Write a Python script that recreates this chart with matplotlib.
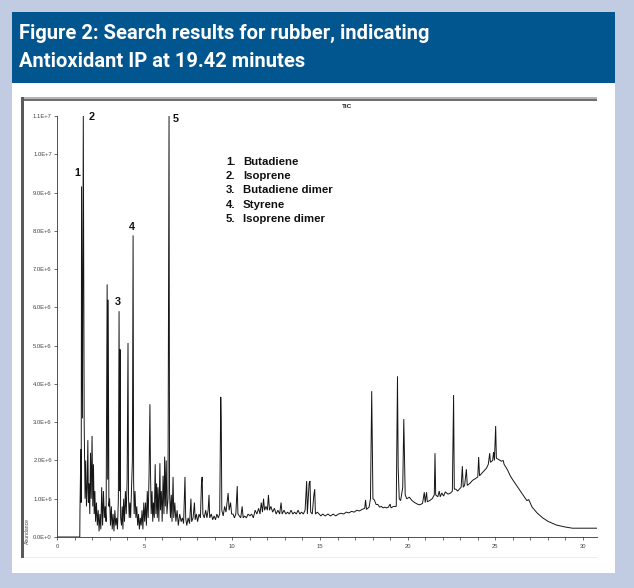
import numpy as np
import matplotlib.pyplot as plt
from matplotlib.patches import Rectangle
from matplotlib.ticker import FuncFormatter, MultipleLocator

W, H = 634, 588
BG = '#c1cce3'
BAR = '#02568f'

TITLE_LINES = ['Figure 2: Search results for rubber, indicating',
               'Antioxidant IP at 19.42 minutes']

# TIC trace, retention time (min) and abundance (x 1e6), in three stretches
rt_early = [0.00, 1.30, 1.31, 1.36, 1.38, 1.40, 1.45, 1.50, 1.55, 1.60, 1.64, 1.68,
            1.72, 1.76, 1.79, 1.83, 1.87, 1.91, 1.95, 2.00, 2.04, 2.08, 2.12, 2.16,
            2.20, 2.25, 2.30, 2.35, 2.40, 2.45, 2.50, 2.55, 2.60, 2.65, 2.70, 2.75,
            2.80, 2.86, 2.89, 2.92, 2.96, 3.00, 3.05, 3.10, 3.15, 3.20, 3.25, 3.30,
            3.35, 3.40, 3.45, 3.50, 3.54, 3.57, 3.60, 3.63, 3.68, 3.72, 3.76, 3.80,
            3.85, 3.90, 3.95, 4.00, 4.05, 4.08, 4.12, 4.16, 4.20, 4.25, 4.30, 4.34,
            4.37, 4.40, 4.45, 4.50, 4.55, 4.60, 4.65, 4.70, 4.75, 4.80, 4.85, 4.90,
            4.95, 5.00]
ab_early = [0.00, 0.00, 0.70, 2.30, 0.90, 9.16, 3.10, 11.0, 3.00, 1.00, 2.00, 0.80,
            1.30, 2.53, 0.90, 1.40, 0.60, 2.20, 1.00, 2.64, 0.80, 1.90, 0.60, 1.20,
            0.40, 0.90, 0.30, 0.70, 0.15, 0.60, 0.20, 1.30, 0.30, 1.20, 0.50, 0.80,
            0.40, 6.60, 1.50, 6.20, 0.80, 1.00, 0.30, 0.80, 0.20, 0.60, 0.15, 0.70,
            0.30, 0.50, 0.20, 1.00, 5.90, 1.20, 4.90, 0.50, 0.30, 0.80, 0.20, 1.00,
            0.40, 1.20, 0.60, 1.50, 5.07, 1.00, 0.50, 0.90, 0.50, 1.30, 2.00, 7.88,
            1.50, 0.60, 1.20, 0.50, 0.80, 0.30, 0.60, 0.20, 0.50, 0.30, 0.70, 0.20,
            0.90, 0.40]

rt_mid = [5.05, 5.10, 5.15, 5.20, 5.25, 5.30, 5.33, 5.37, 5.42, 5.46, 5.50, 5.55,
          5.60, 5.64, 5.68, 5.72, 5.76, 5.81, 5.87, 5.90, 5.95, 6.00, 6.05, 6.10,
          6.14, 6.18, 6.23, 6.27, 6.33, 6.39, 6.42, 6.47, 6.52, 6.56, 6.62, 6.66,
          6.72, 6.78, 6.85, 6.92, 7.00, 7.08, 7.15, 7.22, 7.30, 7.34, 7.40, 7.48,
          7.56, 7.64, 7.68, 7.76, 7.84, 7.88, 7.95, 8.02, 8.10, 8.18, 8.24, 8.28,
          8.32, 8.40, 8.48, 8.55, 8.62, 8.67, 8.71, 8.80, 8.88, 8.96, 9.04, 9.12,
          9.20, 9.28, 9.34, 9.37, 9.40, 9.48, 9.56, 9.64, 9.72, 9.76, 9.82, 9.90,
          9.96, 10.04, 10.12, 10.20, 10.28, 10.32, 10.40, 10.48, 10.56, 10.62, 10.70,
          10.80, 10.90, 11.00, 11.10, 11.20, 11.30, 11.40, 11.50, 11.58, 11.65, 11.72,
          11.78, 11.84, 11.92, 12.00, 12.06, 12.12, 12.20, 12.30, 12.40, 12.50, 12.60,
          12.70, 12.78, 12.84, 12.95, 13.05, 13.15, 13.25, 13.35, 13.45, 13.55, 13.65,
          13.75, 13.85, 13.95, 14.05, 14.15, 14.24, 14.28, 14.38, 14.43, 14.47, 14.56,
          14.65, 14.70, 14.74, 14.85, 14.95]
ab_mid = [0.90, 0.30, 1.20, 0.50, 1.60, 3.47, 1.80, 0.60, 1.20, 0.40, 0.90, 0.50,
          1.90, 0.60, 1.40, 0.50, 1.30, 0.40, 1.93, 0.70, 1.20, 0.40, 1.60, 0.60,
          2.10, 0.80, 2.00, 0.60, 1.00, 11.0, 1.20, 0.50, 1.10, 0.40, 1.57, 0.50,
          0.90, 0.40, 0.70, 0.30, 0.60, 0.40, 0.50, 0.35, 1.57, 0.50, 0.30, 0.50,
          0.35, 1.00, 0.40, 0.50, 0.90, 0.45, 0.60, 0.40, 0.60, 0.50, 1.40, 1.57,
          0.60, 0.50, 0.70, 0.50, 0.70, 1.10, 0.50, 0.60, 0.45, 0.55, 0.45, 0.60,
          0.50, 0.60, 3.66, 3.00, 0.70, 0.55, 0.80, 0.65, 1.00, 1.15, 0.70, 0.90,
          0.60, 0.60, 0.50, 0.60, 1.33, 0.60, 0.55, 0.50, 0.80, 0.50, 0.55,
          0.50, 0.60, 0.55, 0.60, 0.50, 0.70, 0.60, 0.75, 0.60, 0.90, 0.65,
          1.00, 0.70, 0.80, 0.70, 1.10, 0.70, 0.80, 0.65, 0.75, 0.60, 0.70,
          0.60, 0.90, 0.60, 0.70, 0.60, 0.65, 0.60, 0.70, 0.60, 0.65, 0.60,
          0.70, 0.60, 0.65, 0.60, 0.70, 1.46, 0.60, 1.40, 1.46, 0.65, 0.60,
          1.10, 1.25, 0.60, 0.65, 0.60]

rt_late = [15.05, 15.15, 15.30, 15.45, 15.60, 15.75, 15.90, 16.05, 16.20, 16.35, 16.50,
           16.65, 16.80, 16.95, 17.10, 17.25, 17.40, 17.55, 17.60, 17.65, 17.80, 17.88,
           17.95, 17.98, 18.02, 18.10, 18.20, 18.30, 18.40, 18.50, 18.60, 18.70, 18.80,
           18.90, 19.00, 19.05, 19.20, 19.35, 19.42, 19.46, 19.52, 19.60, 19.72, 19.78,
           19.82, 19.86, 19.95, 20.10, 20.25, 20.40, 20.55, 20.70, 20.85, 20.95, 21.00,
           21.08, 21.12, 21.25, 21.40, 21.52, 21.56, 21.60, 21.72, 21.80, 21.86, 21.95,
           22.05, 22.15, 22.30, 22.45, 22.55, 22.62, 22.66, 22.75, 22.85, 22.95, 23.05,
           23.12, 23.17, 23.25, 23.35, 23.40, 23.55, 23.70, 23.85, 24.00, 24.05, 24.10,
           24.30, 24.50, 24.60, 24.68, 24.72, 24.85, 24.90, 24.95, 25.02, 25.06, 25.20,
           25.35, 25.45, 25.50, 25.70, 25.85, 26.00, 26.25, 26.50, 26.80, 26.90, 27.10,
           27.40, 27.70, 28.00, 28.50, 29.00, 29.40, 30.00, 30.80]
ab_late = [0.55, 0.60, 0.55, 0.60, 0.55, 0.60, 0.55, 0.60, 0.62, 0.60, 0.65,
           0.63, 0.67, 0.65, 0.70, 0.68, 0.72, 0.75, 0.97, 0.72, 0.78, 1.00,
           3.81, 2.50, 1.00, 0.97, 0.85, 0.85, 0.78, 0.80, 0.76, 0.78, 0.76,
           0.78, 0.86, 0.76, 0.80, 0.80, 4.20, 1.80, 1.00, 0.95, 1.30, 3.08,
           2.06, 1.10, 1.00, 1.04, 0.95, 0.90, 0.86, 0.84, 0.88, 1.17, 0.90,
           1.17, 0.92, 0.95, 1.00, 1.10, 2.19, 1.10, 1.05, 1.20, 1.05, 1.15,
           1.07, 1.18, 1.12, 1.15, 1.20, 3.71, 1.25, 1.25, 1.20, 1.25, 1.30,
           1.85, 1.30, 1.35, 1.77, 1.35, 1.40, 1.48, 1.52, 1.57, 2.09, 1.60,
           1.70, 1.80, 1.90, 2.19, 1.95, 2.00, 2.22, 2.00, 2.90, 2.06, 2.02,
           1.98, 2.00, 1.90, 1.75, 1.60, 1.49, 1.32, 1.15, 0.95, 0.98, 0.78,
           0.62, 0.50, 0.41, 0.31, 0.26, 0.23, 0.23, 0.23]

# Numbered peaks and the compound key
peak_labels = ['1', '2', '3', '4', '5']
peak_rt = [1.40, 1.50, 3.54, 4.34, 6.39]
label_offset_px = [(-4, 13), (8, -1), (-1, 9), (-1, 8), (7, -3)]
compounds = ['Butadiene', 'Isoprene', 'Butadiene dimer', 'Styrene', 'Isoprene dimer']


def px_rect(fig, x0, y0, x1, y1, color, z=0):
    fig.add_artist(Rectangle((x0 / W, 1 - y1 / H), (x1 - x0) / W, (y1 - y0) / H,
                             transform=fig.transFigure, facecolor=color,
                             edgecolor='none', zorder=z))


def sci_label(v, pos):
    if v == 0:
        return '0.0E+0'
    exp = int(np.floor(np.log10(abs(v))))
    return f'{v / 10**exp:.1f}E+{exp}'


fig = plt.figure(figsize=(W / 100, H / 100), dpi=100, facecolor=BG)

# page panel, title bar and the frame of the instrument printout
px_rect(fig, 12, 12, 615, 573, 'white')
px_rect(fig, 12, 12, 615, 83, BAR)
px_rect(fig, 21, 97, 597, 99, '#b4b4b4')
px_rect(fig, 21, 99, 597, 101, '#6e6e6e')
px_rect(fig, 21, 97, 24, 558, '#5a5a5a')
px_rect(fig, 24, 557, 597, 558, '#ececec')

title_font = ['Roboto', 'DejaVu Sans']
fig.text(19 / W, 1 - 39 / H, TITLE_LINES[0], color='white', fontsize=14.5,
         fontweight='bold', family=title_font, va='baseline', ha='left')
fig.text(19 / W, 1 - 67 / H, TITLE_LINES[1], color='white', fontsize=14.5,
         fontweight='bold', family=title_font, va='baseline', ha='left')

ax = fig.add_axes([57 / W, 51 / H, 540 / W, 421 / H], facecolor='none')

rt = np.array(rt_early + rt_mid + rt_late)
ab = np.array(ab_early + ab_mid + ab_late) * 1e6
ax.plot(rt, ab, color='#161616', lw=0.7, solid_joinstyle='miter')

ax.set_xlim(0, 30.8)
ax.set_ylim(0, 1.1e7)
for side in ['top', 'right']:
    ax.spines[side].set_visible(False)
for side in ['left', 'bottom']:
    ax.spines[side].set_linewidth(0.6)
    ax.spines[side].set_color('#333333')

ax.xaxis.set_major_locator(MultipleLocator(5))
ax.xaxis.set_minor_locator(MultipleLocator(1))
ax.yaxis.set_major_locator(MultipleLocator(1e6))
ax.yaxis.set_major_formatter(FuncFormatter(sci_label))
ax.tick_params(axis='both', which='both', length=2.2, width=0.5, color='#333333',
               labelsize=4.2, labelcolor='#444444', pad=1.5)
ax.tick_params(axis='x', pad=2.5)
for lab in ax.get_xticklabels() + ax.get_yticklabels():
    lab.set_family('Liberation Sans')

fig.text(27 / W, 1 - 531 / H, 'Abundance', rotation=90, fontsize=3.6,
         color='#444444', family='Liberation Sans', ha='center', va='center')
fig.text(347 / W, 1 - 106 / H, 'TIC', fontsize=4.6, fontweight='bold',
         family='Liberation Sans', color='#222222', ha='center', va='center')

# peak numbers above their peaks
for lab, t, (dx, dy) in zip(peak_labels, peak_rt, label_offset_px):
    top = ab[np.argmin(np.abs(rt - t))]
    ax.annotate(lab, xy=(t, top), xytext=(dx, dy), textcoords='offset pixels',
                fontsize=7.8, fontweight='bold', family='Liberation Sans',
                color='#111111', ha='center', va='center', annotation_clip=False)

# compound key
for i, name in enumerate(compounds):
    y = 1 - (162 + i * 14.2) / H
    fig.text(226 / W, y, f'{peak_labels[i]}.', fontsize=8.2, fontweight='bold',
             family='Liberation Sans', color='#111111', va='center')
    fig.text(243 / W, y, name, fontsize=8.2, fontweight='bold',
             family='Liberation Sans', color='#111111', va='center')

fig.savefig('out.png', dpi=100, facecolor=BG)
